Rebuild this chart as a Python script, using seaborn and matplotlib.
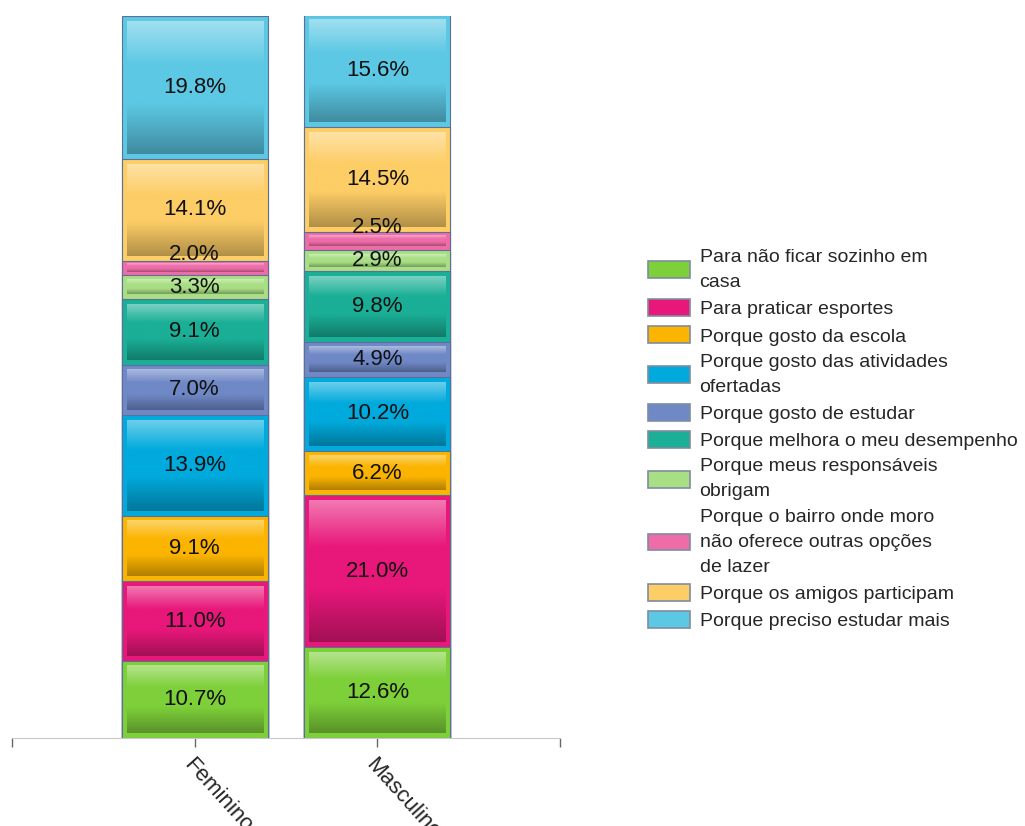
import numpy as np
import pandas as pd
import matplotlib.pyplot as plt
import matplotlib.colors as mcolors
from matplotlib.patches import Patch
import seaborn as sns

# dados
sexo = ["Feminino", "Masculino"]
motivos = [
    "Para não ficar sozinho em\ncasa",
    "Para praticar esportes",
    "Porque gosto da escola",
    "Porque gosto das atividades\nofertadas",
    "Porque gosto de estudar",
    "Porque melhora o meu desempenho",
    "Porque meus responsáveis\nobrigam",
    "Porque o bairro onde moro\nnão oferece outras opções\nde lazer",
    "Porque os amigos participam",
    "Porque preciso estudar mais",
]
feminino = [10.7, 11.0, 9.1, 13.9, 7.0, 9.1, 3.3, 2.0, 14.1, 19.8]
masculino = [12.6, 21.0, 6.2, 10.2, 4.9, 9.8, 2.9, 2.5, 14.5, 15.6]
cores = ["#7ed03a", "#e8177a", "#fbb400", "#00aadc", "#6f88c6",
         "#1aaf96", "#a9df84", "#ee6ca8", "#fdcd66", "#5cc8e4"]

df = pd.DataFrame({
    "motivo": motivos * 2,
    "sexo": ["Feminino"] * len(motivos) + ["Masculino"] * len(motivos),
    "pct": feminino + masculino,
})
df["topo"] = df.groupby("sexo")["pct"].cumsum()
df["base"] = df["topo"] - df["pct"]

sns.set_style("white")
plt.rcParams["font.family"] = ["Liberation Sans", "DejaVu Sans"]

W, H = 1025, 826
fig = plt.figure(figsize=(W / 100, H / 100), dpi=100)
ax = fig.add_axes([12 / W, 88 / H, 548 / W, 722 / H])

# barras empilhadas (camadas cumulativas sobrepostas)
for i in reversed(range(len(motivos))):
    sub = df[df["motivo"] == motivos[i]]
    sns.barplot(data=sub, x="sexo", y="topo", order=sexo, color=cores[i],
                saturation=1, width=0.8, errorbar=None, edgecolor="#5d6f96",
                linewidth=0.8, ax=ax, zorder=2)

px_x = 548 / 3
px_y = 722 / 100


def degrade(cor, n=120):
    base = np.array(mcolors.to_rgb(cor))
    linhas = []
    for v in np.linspace(0, 1, n):
        if v < 0.33:
            k = (0.33 - v) / 0.33
            c = base + (1 - base) * 0.42 * k
        elif v > 0.62:
            k = (v - 0.62) / 0.38
            c = base * (1 - 0.3 * k)
        else:
            c = base
        linhas.append(c)
    return np.clip(np.array(linhas), 0, 1)[:, None, :]


for _, r in df.iterrows():
    j = sexo.index(r["sexo"])
    cor = cores[motivos.index(r["motivo"])]
    h_px = r["pct"] * px_y
    dx = 5 / px_x
    dy = min(5, h_px * 0.2) / px_y
    ax.imshow(degrade(cor), extent=(j - 0.4 + dx, j + 0.4 - dx,
                                    r["base"] + dy, r["topo"] - dy),
              origin="upper", aspect="auto", interpolation="bilinear", zorder=3)
    off = 13.5 / px_y if r["pct"] < 2.6 else 0
    ax.text(j, r["base"] + r["pct"] / 2 + off, f"{r['pct']:.1f}%",
            ha="center", va="center", fontsize=16, color="#111111", zorder=5)

ax.set_xlim(-1, 2)
ax.set_ylim(0, 100)
ax.set_yticks([])
ax.set_xlabel("")
ax.set_ylabel("")
ax.set_xticks([-1, 0, 1, 2])
ax.set_xticklabels(["", "Feminino", "Masculino", ""], rotation=-48,
                   ha="left", rotation_mode="anchor", fontsize=16)
ax.tick_params(axis="x", bottom=True, length=6.5, width=1, color="#666666", pad=5)
for s in ["left", "top", "right"]:
    ax.spines[s].set_visible(False)
ax.spines["bottom"].set_color("#c8c8c8")

handles = [Patch(facecolor=c, edgecolor="#7f8ca0", linewidth=1.2) for c in cores]
leg = fig.legend(handles, motivos, loc="upper left",
                 bbox_to_anchor=(648 / W, 1 - 249 / H), frameon=False, fontsize=14,
                 handlelength=2.15, handleheight=0.95, handletextpad=0.5,
                 labelspacing=0.42, borderpad=0, borderaxespad=0)
for t in leg.get_texts():
    t.set_linespacing(1.62)

fig.savefig("out.png", dpi=100)
